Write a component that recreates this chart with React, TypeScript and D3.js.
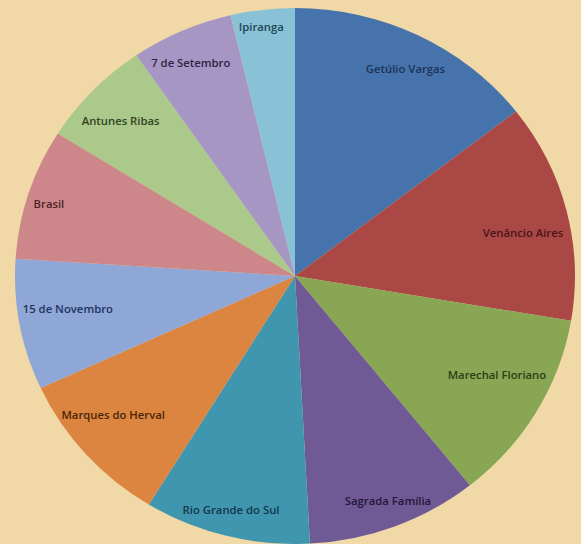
import React from "react";
import * as d3 from "d3";

const categories = [
  "Getúlio Vargas",
  "Venâncio Aires",
  "Marechal Floriano",
  "Sagrada Família",
  "Rio Grande do Sul",
  "Marques do Herval",
  "15 de Novembro",
  "Brasil",
  "Antunes  Ribas",
  "7 de Setembro",
  "Ipiranga",
];
const values = [14.5, 13.2, 11.6, 9.9, 9.6, 9.4, 7.9, 7.9, 6.5, 5.9, 3.7];
const colors = [
  "#4673ab", "#a94845", "#88a653", "#705a96", "#4096ae", "#dc8540",
  "#8ea7d6", "#cd878a", "#aac98b", "#a696c4", "#89c1d6",
];
const labelColors = [
  "#1c3358", "#4a1616", "#2e3d14", "#22173a", "#12384a", "#4a2508",
  "#1f3460", "#4d2426", "#34431f", "#2f2444", "#1f4656",
];
// label placement: radial fraction and angular offset (degrees) from slice middle
const labelRadial = [0.87, 0.83, 0.81, 0.9, 0.9, 0.83, 0.82, 0.92, 0.85, 0.88, 0.94];
const labelAngleOffset = [0.9, 2.9, -3.4, -0.8, 0.5, 3.1, 2.1, -0.7, -0.9, -1.1, -0.7];

const W = 581;
const H = 544;
const cx = 295;
const cy = 276;
const rx = 280;
const ry = 268;

export default function App() {
  const pie = d3.pie<number>().sort(null).value((d) => d);
  const arcs = pie(values);
  const arc = d3.arc<d3.PieArcDatum<number>>().innerRadius(0).outerRadius(rx);
  const sy = ry / rx;
  return (
    <div style={{ position: "absolute", left: 0, top: 0 }}>
      <svg width={W} height={H} style={{ display: "block" }}>
        <rect x={0} y={0} width={W} height={H} fill="#f1d9a7" />
        <g transform={`translate(${cx},${cy}) scale(1,${sy})`}>
          {arcs.map((a, i) => (
            <path key={i} d={arc(a) || ""} fill={colors[i]} />
          ))}
        </g>
        {arcs.map((a, i) => {
          const mid = (a.startAngle + a.endAngle) / 2 + (labelAngleOffset[i] * Math.PI) / 180;
          const r = rx * labelRadial[i];
          const x = cx + Math.sin(mid) * r;
          const y = cy - Math.cos(mid) * r * sy;
          return (
            <text
              key={i}
              x={x}
              y={y}
              textAnchor="middle"
              dominantBaseline="central"
              fontFamily="'Open Sans', sans-serif"
              fontSize={11.3}
              fontWeight={600}
              fill={labelColors[i]}
            >
              {categories[i]}
            </text>
          );
        })}
      </svg>
    </div>
  );
}
